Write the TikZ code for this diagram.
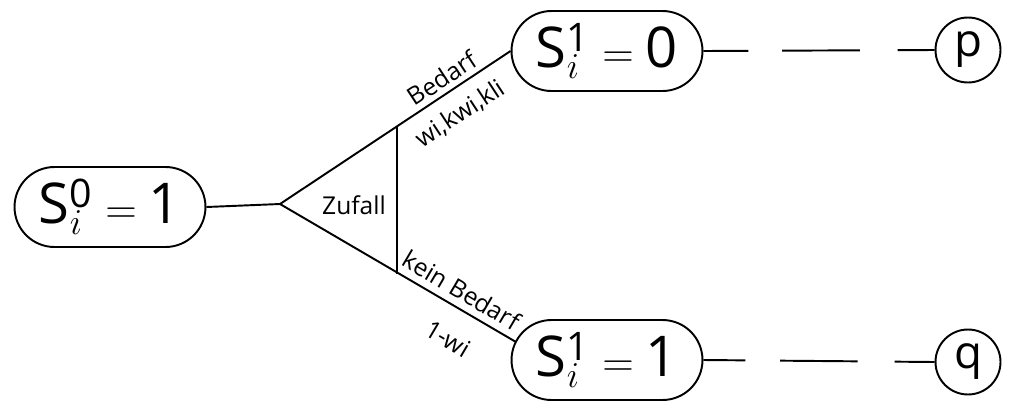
\documentclass[tikz,border=0pt]{standalone}
\usepackage{fontspec}
\setsansfont{Open Sans}
\begin{document}
\begin{tikzpicture}[x=0.02cm,y=-0.02cm,
  line width=1.1pt,
  stadium/.style={draw,rectangle,rounded corners=0.8cm,minimum width=3.82cm,minimum height=1.6cm,inner sep=0pt,font=\fontsize{32}{36}\selectfont},
  endcirc/.style={draw,circle,minimum size=1.3cm,inner sep=0pt,font=\sffamily\fontsize{26}{30}\selectfont},
  lbl/.style={font=\sffamily\fontsize{14}{16}\selectfont,inner sep=1pt}]
\useasboundingbox (0,0) rectangle (1014,403);
\node[stadium] (s0) at (110,207) {$\mathsf{S}_i^{\mathsf{0}}\;\mathsf{=}\;\mathsf{1}$};
\node[stadium] (s1a) at (607,51) {$\mathsf{S}_i^{\mathsf{1}}\;\mathsf{=}\;\mathsf{0}$};
\node[stadium] (s1b) at (607,360) {$\mathsf{S}_i^{\mathsf{1}}\;\mathsf{=}\;\mathsf{1}$};
\node[endcirc] (p) at (968,50) {p};
\node[endcirc] (q) at (968,362) {q};
\coordinate (tip) at (280,204);
\coordinate (uc) at (397,127);
\coordinate (lc) at (397,274);
\coordinate (lb) at (516,342);
\draw (s0.east) -- (tip);
\draw (tip) -- (s1a.west);
\draw (tip) -- (lb);
\draw (uc) -- (lc);
\draw[dash pattern=on 25.5pt off 19.3pt on 44.2pt off 21.5pt on 30pt] (s1a.east) -- (p.west);
\draw[dash pattern=on 23.8pt off 19.8pt on 44.2pt off 21pt on 30pt] (s1b.east) -- (q.west);
\node[lbl] at (354,205) {Zufall};
\node[lbl,rotate=33.3] at (442,78) {Bedarf};
\node[lbl,rotate=33.3] at (460,114) {wi,kwi,kli};
\node[lbl,rotate=-30.6] at (462,290) {kein Bedarf};
\node[lbl,rotate=-30.6] at (448,339) {1-wi};
\end{tikzpicture}
\end{document}
